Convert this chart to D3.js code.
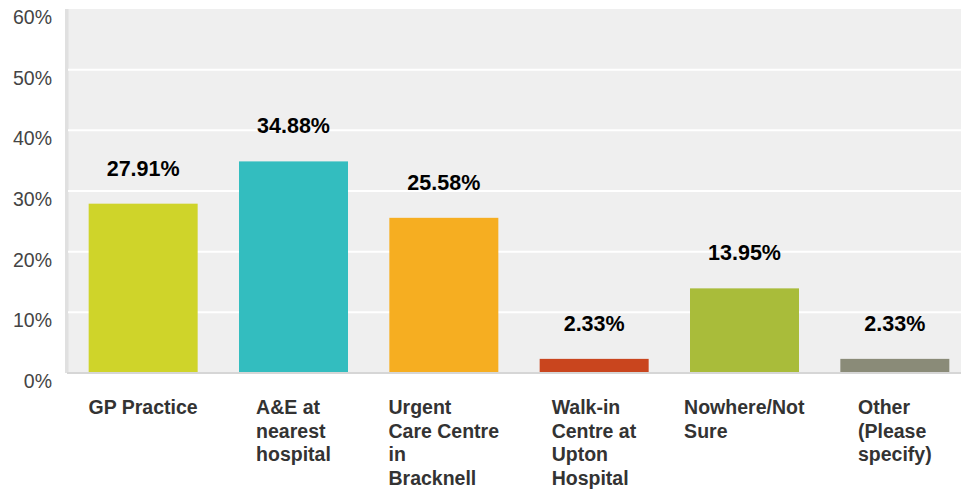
<!DOCTYPE html>
<html>
<head>
<meta charset="utf-8">
<script src="https://cdn.jsdelivr.net/npm/d3@7"></script>
<style>
  body { margin: 0; background: #fff; }
  svg { display: block; font-family: Arial, "Liberation Sans", sans-serif; }
</style>
</head>
<body>
<div id="chart"></div>
<script>
// Data
const categories = [
  "GP Practice",
  "A&E at\nnearest\nhospital",
  "Urgent\nCare Centre\nin\nBracknell",
  "Walk-in\nCentre at\nUpton\nHospital",
  "Nowhere/Not\nSure",
  "Other\n(Please\nspecify)"
];
const values = [27.91, 34.88, 25.58, 2.33, 13.95, 2.33];
const colors = ["#cfd42a", "#33bdbf", "#f6ae21", "#c9451e", "#a9bc3a", "#8a8b78"];
const yTicks = [0, 10, 20, 30, 40, 50, 60];

const width = 961, height = 492;
const plot = {left: 68, right: 970, top: 9, bottom: 373};

const svg = d3.select("#chart")
  .append("svg")
    .attr("width", width)
    .attr("height", height);

const x = d3.scaleBand()
  .domain(categories)
  .range([plot.left, plot.right])
  .paddingInner(0.275)
  .paddingOuter(0.1375);

const y = d3.scaleLinear()
  .domain([0, 60])
  .range([plot.bottom, plot.top]);

// plot background
svg.append("rect")
  .attr("x", plot.left)
  .attr("y", plot.top)
  .attr("width", width - plot.left)
  .attr("height", plot.bottom - plot.top)
  .attr("fill", "#efefef");

// left border
svg.append("rect")
  .attr("x", 65)
  .attr("y", plot.top)
  .attr("width", 3.5)
  .attr("height", plot.bottom - plot.top)
  .attr("fill", "#e0e0e0");

// gridlines
svg.append("g")
  .selectAll("line")
  .data(yTicks.filter(d => d > 0 && d < 60))
  .join("line")
    .attr("x1", plot.left)
    .attr("x2", width)
    .attr("y1", d => y(d))
    .attr("y2", d => y(d))
    .attr("stroke", "#fff")
    .attr("stroke-width", 2);

// y tick labels
svg.append("g")
  .selectAll("text")
  .data(yTicks)
  .join("text")
    .attr("x", 52)
    .attr("y", d => y(d) + 15)
    .attr("text-anchor", "end")
    .attr("fill", "#444")
    .style("font-size", "19.5px")
    .text(d => d + "%");

// bars
svg.append("g")
  .selectAll("rect")
  .data(values)
  .join("rect")
    .attr("x", (d, i) => x(categories[i]))
    .attr("y", d => y(d))
    .attr("width", x.bandwidth())
    .attr("height", d => y(0) - y(d))
    .attr("fill", (d, i) => colors[i]);

// bottom axis line
svg.append("rect")
  .attr("x", 67)
  .attr("y", plot.bottom - 1)
  .attr("width", width - 67)
  .attr("height", 2)
  .attr("fill", "#d6d6d6");

// value labels
svg.append("g")
  .selectAll("text")
  .data(values)
  .join("text")
    .attr("x", (d, i) => x(categories[i]) + x.bandwidth() / 2)
    .attr("y", d => y(d) - 28)
    .attr("text-anchor", "middle")
    .attr("fill", "#000")
    .style("font-size", "21.5px")
    .style("font-weight", "bold")
    .text(d => d.toFixed(2) + "%");

// category labels: lines left-aligned, block centered on the bar
const catLabels = svg.append("g")
  .selectAll("text")
  .data(categories)
  .join("text")
    .attr("fill", "#333")
    .style("font-size", "19.5px")
    .style("font-weight", "bold");

catLabels.each(function(d) {
  const t = d3.select(this);
  d.split("\n").forEach((line, j) => {
    t.append("tspan")
      .attr("x", 0)
      .attr("y", 414 + j * 23.5)
      .text(line);
  });
  const w = this.getBBox().width;
  t.attr("transform", `translate(${x(d) + x.bandwidth() / 2 - w / 2},0)`);
});
</script>
</body>
</html>
